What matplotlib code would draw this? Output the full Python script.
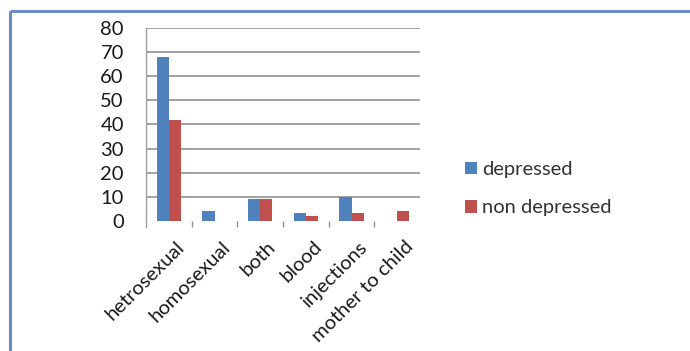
import matplotlib
matplotlib.use("Agg")
import matplotlib.pyplot as plt
import matplotlib.transforms as mtransforms
from matplotlib.lines import Line2D
import numpy as np

categories = ["hetrosexual", "homosexual", "both", "blood", "injections", "mother to child"]
depressed = [68, 4, 9, 3.3, 10, 0]
non_depressed = [42, 0, 9, 2, 3.2, 4]
series_names = ["depressed", "non depressed"]
y_ticks = [0, 10, 20, 30, 40, 50, 60, 70, 80]

BLUE = "#4F81BD"
RED = "#C0504D"
GRID = "#868686"
FRAME = "#6C8BC7"

plt.rcParams["font.family"] = ["Lato", "DejaVu Sans"]

W, H = 690, 351
fig = plt.figure(figsize=(W / 100, H / 100), dpi=100)
fig.patch.set_facecolor("white")

# outer frame: top and left edges only
fig.add_artist(Line2D([10 / W, 1.0], [1 - 11 / H, 1 - 11 / H], transform=fig.transFigure,
                      color=FRAME, lw=2.2, solid_capstyle="butt"))
fig.add_artist(Line2D([10 / W, 10 / W], [0.0, 1 - 11 / H], transform=fig.transFigure,
                      color=FRAME, lw=2.2, solid_capstyle="butt"))

left, right = 146 / W, 420 / W
top, bottom = 1 - 28.3 / H, 1 - 226.7 / H
ax = fig.add_axes([left, bottom, right - left, top - bottom])

x = np.arange(len(categories))
bw = 0.27
ax.bar(x - bw / 2, depressed, width=bw, color=BLUE, label=series_names[0], zorder=3)
ax.bar(x + bw / 2, non_depressed, width=bw, color=RED, label=series_names[1], zorder=3)

ax.set_xlim(-0.5, len(categories) - 0.5)
ax.set_ylim(-2.5, 80)
ax.set_yticks(y_ticks)
ax.set_yticklabels([str(v) for v in y_ticks], fontsize=14.5, color="#1a1a1a")
for v in y_ticks[1:]:
    ax.axhline(v, color=GRID, lw=1.1, zorder=1)

for s in ["top", "right", "bottom"]:
    ax.spines[s].set_visible(False)
ax.spines["left"].set_color("#A0A0A0")
ax.spines["left"].set_linewidth(1.0)
ax.tick_params(axis="y", length=0, pad=16)

ax.set_xticks(x)
ax.set_xticklabels(categories, rotation=45, ha="right", rotation_mode="anchor",
                   fontsize=14.5, color="#1a1a1a")
ax.tick_params(axis="x", which="major", length=0, pad=8)
shift = mtransforms.ScaledTranslation(7 / 100, 0, fig.dpi_scale_trans)
for lbl in ax.get_xticklabels():
    lbl.set_transform(lbl.get_transform() + shift)
ax.set_xticks(np.arange(0.5, len(categories) - 0.5, 1.0), minor=True)
ax.tick_params(axis="x", which="minor", length=4, direction="in", color="#909090", width=1)

handles, labels = ax.get_legend_handles_labels()
leg = fig.legend(handles, labels, loc="upper left", bbox_to_anchor=(447 / W, 1 - 143 / H),
                 frameon=False, fontsize=14.5, handlelength=0.6, handleheight=0.6,
                 handletextpad=0.25, labelspacing=1.05, labelcolor="#333333")

fig.savefig("out.png", dpi=100, facecolor="white")
